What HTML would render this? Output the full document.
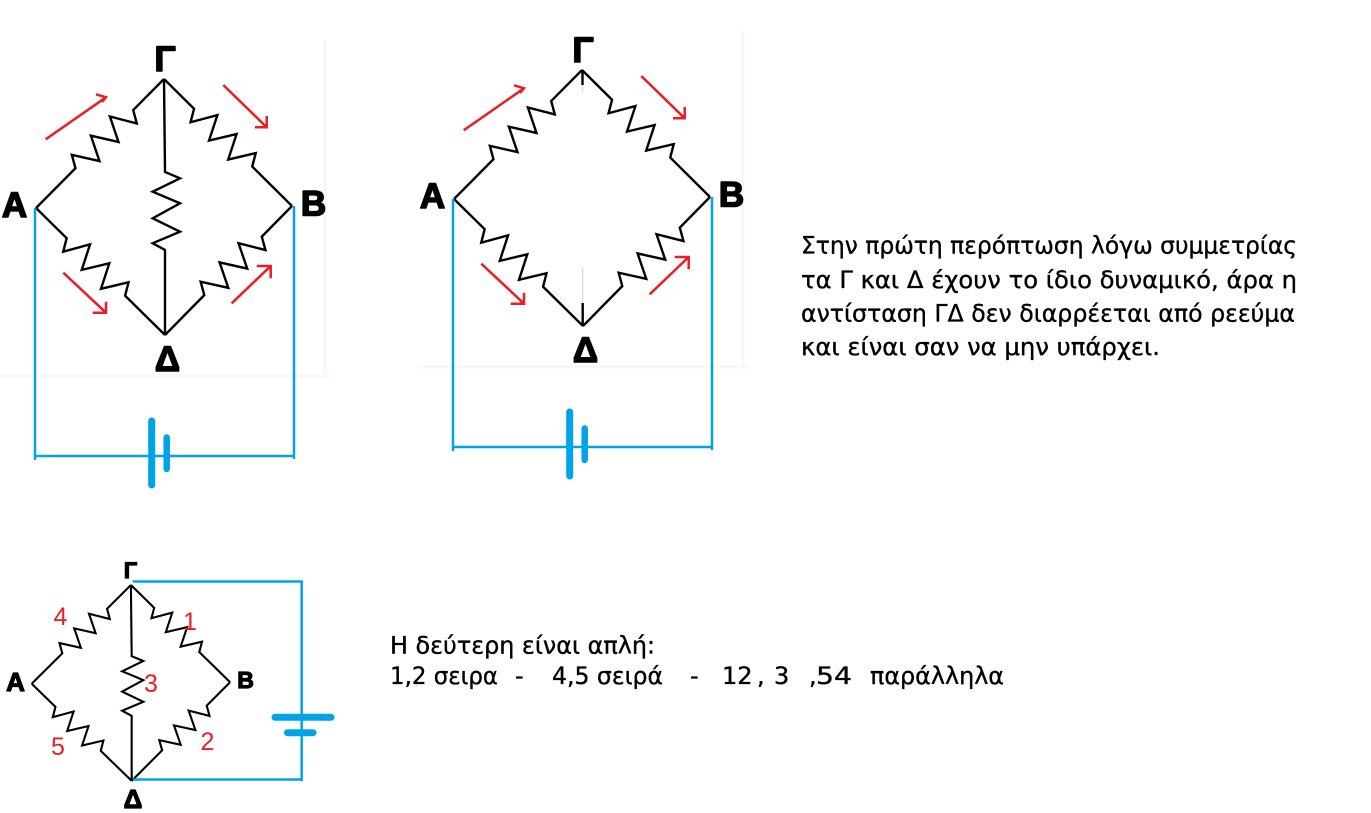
<!DOCTYPE html>
<html><head><meta charset="utf-8"><style>
html,body{margin:0;padding:0;background:#fff;}
svg{display:block;}
</style></head><body>
<svg width="1371" height="813" viewBox="0 0 1371 813" xmlns="http://www.w3.org/2000/svg">
<rect width="1371" height="813" fill="#fff"/>
<!-- faint gray artifacts -->
<g stroke="#f7f7f7" stroke-width="3" fill="none">
<path d="M0,376 L330,376 M325,40 L325,376"/>
<path d="M418,367 L748,367 M743,31 L743,367"/>
</g>

<!-- Circuit 1 -->
<g fill="none" stroke="#000" stroke-width="2.4" stroke-linejoin="miter">
<path transform="translate(36,208) rotate(-45.22)" d="M0,0 L56,0 L63,-12 L78,12 L90,-12 L105,12 L117,-12 L131,12 L138,0 L181.7,0"/>
<path transform="translate(292,206) rotate(-135.22) scale(1,-1)" d="M0,0 L56,0 L63,-12 L78,12 L90,-12 L105,12 L117,-12 L131,12 L138,0 L180.3,0"/>
<path transform="translate(165,335) rotate(-135.45) scale(1,-1)" d="M0,0 L56,0 L63,-12 L78,12 L90,-12 L105,12 L117,-12 L131,12 L138,0 L181,0"/>
<path transform="translate(165,335) rotate(-45.45)" d="M0,0 L56,0 L63,-12 L78,12 L90,-12 L105,12 L117,-12 L131,12 L138,0 L181,0"/>
<path d="M164,79 L165,172 L180,178.3 L152.7,191.7 L180,203.3 L152.7,218.3 L180,231.7 L152.7,243.3 L165,250 L165,335"/>
</g>
<g fill="none" stroke="#ed1c24" stroke-width="2.5">
<path d="M45.7,139.3 L106,97.3 M96,94.3 L106,97.3 L102,102"/>
<path d="M223.3,85 L266.7,127.3 M266.7,116 L266.7,127.3 L255,127.3"/>
<path d="M63.3,272.7 L106,312.7 M106,301.7 L106,312.7 L92.7,312.7"/>
<path d="M231.7,303.3 L270.7,266 M256.7,266 L270.7,266 L270.7,278.3"/>
</g>
<g fill="none" stroke="#00a2e8" stroke-width="2.5">
<path d="M35,208 L35,460 M35,456 L295,456 M294,206 L294,459"/>
</g>
<g stroke="#00a2e8" stroke-linecap="round" fill="none">
<path d="M151.7,421 L151.7,485" stroke-width="7"/>
<path d="M166.7,437.5 L166.7,469" stroke-width="6.5"/>
</g>
<g font-family="Liberation Sans, sans-serif" font-weight="bold" font-size="35" fill="#000" stroke="#000" stroke-width="1.6" stroke-linejoin="round" text-anchor="middle">
<text x="165" y="71">Γ</text>
<text x="14.5" y="217">Α</text>
<text x="313.5" y="215.5">Β</text>
<text x="167.5" y="371">Δ</text>
</g>

<!-- Circuit 2 -->
<g transform="translate(418,-9)">
<g fill="none" stroke="#000" stroke-width="2.4" stroke-linejoin="miter">
<path transform="translate(36,208) rotate(-45.22)" d="M0,0 L56,0 L63,-12 L78,12 L90,-12 L105,12 L117,-12 L131,12 L138,0 L181.7,0"/>
<path transform="translate(292,206) rotate(-135.22) scale(1,-1)" d="M0,0 L56,0 L63,-12 L78,12 L90,-12 L105,12 L117,-12 L131,12 L138,0 L180.3,0"/>
<path transform="translate(165,335) rotate(-135.45) scale(1,-1)" d="M0,0 L56,0 L63,-12 L78,12 L90,-12 L105,12 L117,-12 L131,12 L138,0 L181,0"/>
<path transform="translate(165,335) rotate(-45.45)" d="M0,0 L56,0 L63,-12 L78,12 L90,-12 L105,12 L117,-12 L131,12 L138,0 L181,0"/>
<path d="M164.5,79 L164.5,94 M164.7,312 L164.7,335"/>
</g>
<path d="M164.5,94 L164.5,101 M164.7,277 L164.7,312" stroke="#d8d8d8" stroke-width="1.2" fill="none"/>
<g fill="none" stroke="#ed1c24" stroke-width="2.5">
<path d="M45.7,139.3 L106,97.3 M96,94.3 L106,97.3 L102,102"/>
<path d="M223.3,85 L266.7,127.3 M266.7,116 L266.7,127.3 L255,127.3"/>
<path d="M63.3,272.7 L106,312.7 M106,301.7 L106,312.7 L92.7,312.7"/>
<path d="M231.7,303.3 L270.7,266 M256.7,266 L270.7,266 L270.7,278.3"/>
</g>
<g fill="none" stroke="#00a2e8" stroke-width="2.5">
<path d="M35,208 L35,460 M35,456 L295,456 M294,206 L294,459"/>
</g>
<g stroke="#00a2e8" stroke-linecap="round" fill="none">
<path d="M151.7,421 L151.7,485" stroke-width="7"/>
<path d="M166.7,437.5 L166.7,469" stroke-width="6.5"/>
</g>
<g font-family="Liberation Sans, sans-serif" font-weight="bold" font-size="35" fill="#000" stroke="#000" stroke-width="1.6" stroke-linejoin="round" text-anchor="middle">
<text x="165" y="71">Γ</text>
<text x="14.5" y="217">Α</text>
<text x="313.5" y="215.5">Β</text>
<text x="167.5" y="371">Δ</text>
</g>
</g>

<!-- Circuit 3 -->
<g transform="translate(3.8,524.6) scale(0.775,0.765)" fill="none" stroke="#000" stroke-width="2.1">
<path vector-effect="non-scaling-stroke" transform="translate(36,208) rotate(-45.22)" d="M0,0 L56,0 L63,-12 L78,12 L90,-12 L105,12 L117,-12 L131,12 L138,0 L181.7,0"/>
<path vector-effect="non-scaling-stroke" transform="translate(292,206) rotate(-135.22) scale(1,-1)" d="M0,0 L56,0 L63,-12 L78,12 L90,-12 L105,12 L117,-12 L131,12 L138,0 L180.3,0"/>
<path vector-effect="non-scaling-stroke" transform="translate(165,335) rotate(-135.45) scale(1,-1)" d="M0,0 L56,0 L63,-12 L78,12 L90,-12 L105,12 L117,-12 L131,12 L138,0 L181,0"/>
<path vector-effect="non-scaling-stroke" transform="translate(165,335) rotate(-45.45)" d="M0,0 L56,0 L63,-12 L78,12 L90,-12 L105,12 L117,-12 L131,12 L138,0 L181,0"/>
<path vector-effect="non-scaling-stroke" d="M164,79 L165,172 L180,178.3 L152.7,191.7 L180,203.3 L152.7,218.3 L180,231.7 L152.7,243.3 L165,250 L165,335"/>
</g>
<g fill="none" stroke="#00a2e8" stroke-width="2.5">
<path d="M132.7,581.5 L302.5,581.5 M301.7,580.5 L301.7,781 M133,779.5 L302.5,779.5"/>
</g>
<g stroke="#00a2e8" stroke-linecap="round" fill="none" stroke-width="7">
<path d="M275,717.3 L331,717.3"/>
<path d="M287.5,732.7 L313,732.7"/>
</g>
<g font-family="Liberation Sans, sans-serif" font-weight="bold" fill="#000" stroke="#000" stroke-width="1.2" stroke-linejoin="round" text-anchor="middle">
<text x="130.5" y="578" font-size="22">Γ</text>
<text x="15.5" y="691" font-size="26">Α</text>
<text x="245.5" y="688" font-size="23">Β</text>
<text x="133" y="808" font-size="26">Δ</text>
</g>
<g font-family="Liberation Sans, sans-serif" font-size="25" fill="#ed1c24" text-anchor="middle">
<text x="60.5" y="625">4</text>
<text x="190" y="630">1</text>
<text x="151" y="692">3</text>
<text x="58" y="755">5</text>
<text x="207.5" y="750">2</text>
</g>

<!-- Text -->
<g font-family="DejaVu Sans, Liberation Sans, sans-serif" font-size="24" fill="#000" stroke="#000" stroke-width="0.35">
<text x="801" y="253.5" textLength="496" lengthAdjust="spacingAndGlyphs">Στην πρώτη περόπτωση λόγω συμμετρίας</text>
<text x="801" y="288" textLength="496" lengthAdjust="spacingAndGlyphs">τα Γ και Δ έχουν το ίδιο δυναμικό, άρα η</text>
<text x="801" y="321.5" textLength="494" lengthAdjust="spacingAndGlyphs">αντίσταση ΓΔ δεν διαρρέεται από ρεεύμα</text>
<text x="801" y="355" textLength="359" lengthAdjust="spacingAndGlyphs">και είναι σαν να μην υπάρχει.</text>

<text x="390" y="653.5" textLength="265" lengthAdjust="spacingAndGlyphs">Η δεύτερη είναι απλή:</text>
<text x="390" y="684" textLength="108" lengthAdjust="spacingAndGlyphs">1,2 σειρα</text>
<text x="515" y="684">-</text>
<text x="552" y="684" textLength="111" lengthAdjust="spacingAndGlyphs">4,5 σειρά</text>
<text x="690" y="684">-</text>
<text x="722" y="684">12</text>
<text x="757" y="684">,</text>
<text x="774" y="684">3</text>
<text x="809" y="684">,</text>
<text x="816" y="684" textLength="36" lengthAdjust="spacingAndGlyphs">54</text>
<text x="870" y="684" textLength="134" lengthAdjust="spacingAndGlyphs">παράλληλα</text>
</g>
</svg>
</body></html>
